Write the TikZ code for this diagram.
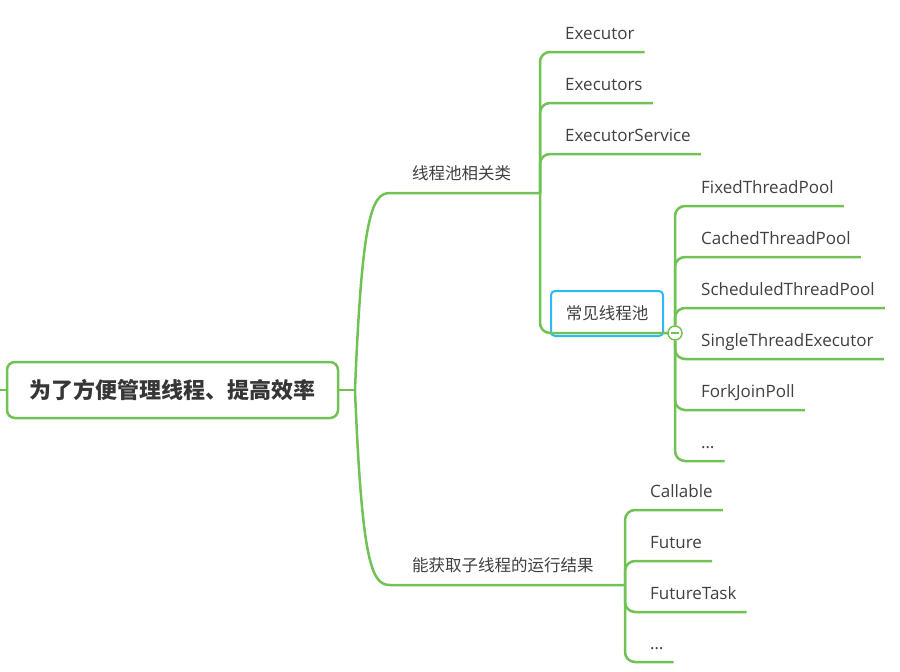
\documentclass[tikz,border=0pt]{standalone}
\usepackage{fontspec}
\setmainfont{Open Sans}
\newfontfamily\cjk{Noto Sans CJK SC}
\usepackage{xcolor}
\usepackage{tikz}
\usetikzlibrary{positioning}

\definecolor{mapgreen}{RGB}{113,194,84}
\definecolor{mapblue}{RGB}{45,185,245}
\definecolor{maptext}{RGB}{64,64,64}

\begin{document}
\begin{tikzpicture}[x=1pt, y=-1pt]
    \tikzstyle{branch} = [draw=mapgreen, line width=2.5pt, rounded corners=10pt]
    \tikzstyle{leaf} = [anchor=south west, inner xsep=10pt, inner ysep=12pt, text depth=0pt, text=maptext, font=\fontsize{17}{20}\selectfont]
    \tikzstyle{topic} = [leaf, inner xsep=12pt, inner ysep=13pt, font=\cjk\fontsize{16.5}{20}\selectfont]
    \tikzstyle{root} = [rectangle, draw=mapgreen, line width=2.5pt, rounded corners=8pt, minimum width=331pt, minimum height=56pt, text=maptext!85!black, font=\cjk\bfseries\fontsize{22}{26}\selectfont]
    \tikzstyle{pool} = [rectangle, draw=mapblue, line width=2pt, rounded corners=4pt, minimum width=112pt, minimum height=45pt, text=maptext, font=\cjk\fontsize{16.5}{20}\selectfont]
    \tikzstyle{fold} = [circle, draw=mapgreen, line width=1.5pt, fill=white, minimum size=14pt, inner sep=0pt,
        path picture={\draw[mapgreen, line width=1.2pt] ([xshift=-4pt]path picture bounding box.center) -- ([xshift=4pt]path picture bounding box.center);}]

    \useasboundingbox (0,0) rectangle (900,672);

    \node (root) [root] at (172.5,390) {为了方便管理线程、提高效率};
    \coordinate (stub) at (0,390);
    \coordinate (hub) at (355,390);

    \node (cls) [topic] at (400,193) {线程池相关类};
    \node (res) [topic] at (400,585) {能获取子线程的运行结果};
    \coordinate (b1) at (540,193);
    \coordinate (b3) at (625,585);

    \node (exec) [leaf] at (555,52) {Executor};
    \node (execs) [leaf] at (555,103) {Executors};
    \node (service) [leaf] at (555,154) {ExecutorService};
    \node (common) [pool] at (607,313.5) {常见线程池};

    \node (fixed) [leaf] at (691,206) {FixedThreadPool};
    \node (cached) [leaf] at (691,257) {CachedThreadPool};
    \node (sched) [leaf] at (691,308) {ScheduledThreadPool};
    \node (single) [leaf] at (691,359) {SingleThreadExecutor};
    \node (fork) [leaf] at (691,410) {ForkJoinPoll};
    \node (more) [leaf] at (691,461) {…};

    \node (callable) [leaf] at (640,510) {Callable};
    \node (future) [leaf] at (640,561) {Future};
    \node (task) [leaf] at (640,612) {FutureTask};
    \node (etc) [leaf] at (640,662) {…};

    \draw [branch] (stub) -- (root.west);
    \draw [branch] (root.east) -- (hub);
    \draw [branch] (hub) .. controls +(7,-175) and +(-28,0) .. (cls.south west) -- (b1);
    \draw [branch] (hub) .. controls +(7,175) and +(-28,0) .. (res.south west) -- (b3);

    \foreach \n in {exec,execs,service}
        \draw [branch] (b1) |- (\n.south east);
    \draw [branch] (b1) |- (675,333) coordinate (b2);
    \node (fold) [fold] at (b2) {};

    \foreach \n in {fixed,cached,sched}
        \draw [branch] (fold.north) |- (\n.south east);
    \foreach \n in {single,fork,more}
        \draw [branch] (fold.south) |- (\n.south east);

    \foreach \n in {callable,future,task,etc}
        \draw [branch] (b3) |- (\n.south east);
\end{tikzpicture}
\end{document}
